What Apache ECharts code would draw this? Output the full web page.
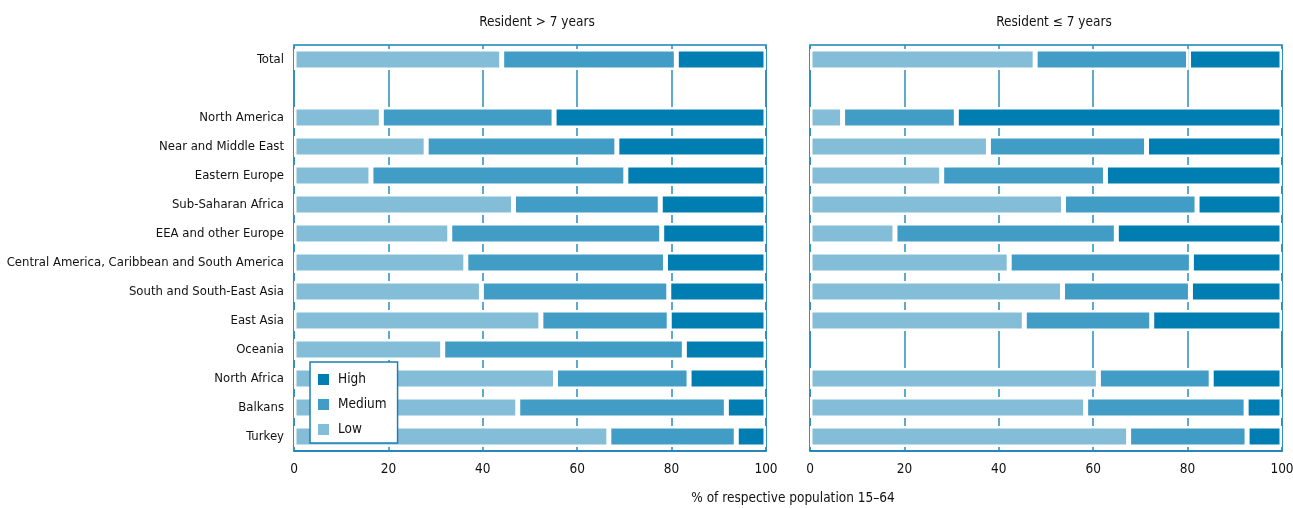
<!DOCTYPE html>
<html>
<head>
<meta charset="utf-8">
<script src="https://cdn.jsdelivr.net/npm/echarts@6/dist/echarts.min.js"></script>
<style>
html,body{margin:0;padding:0;background:#fff;}
#chart{width:1293px;height:508px;}
</style>
</head>
<body>
<div id="chart"></div>
<script>
// ---- Data ----
var categories = ['Total', '', 'North America', 'Near and Middle East', 'Eastern Europe', 'Sub-Saharan Africa',
  'EEA and other Europe', 'Central America, Caribbean and South America', 'South and South-East Asia',
  'East Asia', 'Oceania', 'North Africa', 'Balkans', 'Turkey'];

var panelTitles = ['Resident > 7 years', 'Resident \u2264 7 years'];
var xTitle = '% of respective population 15\u201364';
var seriesNames = ['Low', 'Medium', 'High'];

// Resident > 7 years
var lowLong    = [44.0, null, 18.5, 28.0, 16.3, 46.5, 33.0, 36.4, 39.7, 52.3, 31.5, 55.4, 47.4, 66.7];
var mediumLong = [37.0, null, 36.6, 40.4, 54.0, 31.1, 44.9, 42.3, 39.7, 27.2, 51.2, 28.3, 44.2, 27.0];
var highLong   = [19.0, null, 44.9, 31.6, 29.7, 22.4, 22.1, 21.3, 20.6, 20.5, 17.3, 16.3, 8.4, 6.3];

// Resident <= 7 years
var lowShort    = [47.7, null, 6.9, 37.8, 27.9, 53.7, 18.0, 42.2, 53.5, 45.4, null, 61.1, 58.4, 67.5];
var mediumShort = [32.5, null, 24.1, 33.5, 34.7, 28.3, 46.9, 38.6, 27.1, 27.0, null, 23.9, 34.0, 25.1];
var highShort   = [19.8, null, 69.0, 28.7, 37.4, 18.0, 35.1, 19.2, 19.4, 27.6, null, 15.0, 7.6, 7.4];

var xTicks = [0, 20, 40, 60, 80, 100];

// ---- Styles ----
var FONT = "'Liberation Sans Narrow', 'DejaVu Sans Condensed', sans-serif";
var colors = {Low: '#83bdd7', Medium: '#429dc6', High: '#007db1'};
var frameColor = '#1a80b6';
var textColor = '#111111';

var chart = echarts.init(document.getElementById('chart'), null, {renderer: 'canvas'});

var grids = [
  {left: 294, width: 472, top: 45, height: 406},
  {left: 810, width: 472, top: 45, height: 406}
];

function xAxis(i) {
  return {
    type: 'value', gridIndex: i, min: xTicks[0], max: xTicks[xTicks.length - 1], interval: 20,
    axisLine: {show: true, lineStyle: {color: frameColor, width: 1.5}},
    axisTick: {show: false},
    splitLine: {show: true, lineStyle: {color: '#2a8cc0', width: 1.5}},
    axisLabel: {color: textColor, fontFamily: FONT, fontSize: 13.5, margin: 11}
  };
}
function yAxis(i) {
  return {
    type: 'category', gridIndex: i, data: categories, inverse: true,
    axisLine: {show: false}, axisTick: {show: false}, splitLine: {show: false},
    axisLabel: {show: i === 0, color: textColor, fontFamily: FONT, fontSize: 13, margin: 10}
  };
}

var panelData = [[lowLong, mediumLong, highLong], [lowShort, mediumShort, highShort]];
var series = [];
panelData.forEach(function (arrs, p) {
  arrs.forEach(function (arr, k) {
    series.push({
      name: seriesNames[k], type: 'bar', stack: 'p' + p,
      xAxisIndex: p, yAxisIndex: p, data: arr, barWidth: 21,
      itemStyle: {color: colors[seriesNames[k]], borderColor: '#ffffff', borderWidth: 2.5},
      emphasis: {disabled: true}
    });
  });
});

chart.setOption({
  animation: false,
  backgroundColor: '#ffffff',
  title: [
    {text: panelTitles[0], left: 532, top: 10, textAlign: 'center',
     textStyle: {fontFamily: FONT, fontSize: 13.5, fontWeight: 'normal', color: textColor}},
    {text: panelTitles[1], left: 1049, top: 10, textAlign: 'center',
     textStyle: {fontFamily: FONT, fontSize: 13.5, fontWeight: 'normal', color: textColor}},
    {text: xTitle, left: 788, top: 486, textAlign: 'center',
     textStyle: {fontFamily: FONT, fontSize: 13.5, fontWeight: 'normal', color: textColor}}
  ],
  legend: {
    data: ['High', 'Medium', 'Low'], orient: 'vertical', left: 310, top: 362,
    itemWidth: 13, itemHeight: 13, itemGap: 10, padding: [10, 11, 6, 6],
    backgroundColor: '#ffffff', borderColor: frameColor, borderWidth: 1.5,
    icon: 'rect', selectedMode: false,
    textStyle: {fontFamily: FONT, fontSize: 13.5, color: textColor, padding: [0, 0, 0, 3]}
  },
  grid: grids.map(function (g) {
    return Object.assign({show: true, borderColor: frameColor, borderWidth: 1.5,
      backgroundColor: 'transparent', containLabel: false, outerBoundsMode: 'none'}, g);
  }),
  xAxis: [xAxis(0), xAxis(1)],
  yAxis: [yAxis(0), yAxis(1)],
  series: series
});
</script>
</body>
</html>
